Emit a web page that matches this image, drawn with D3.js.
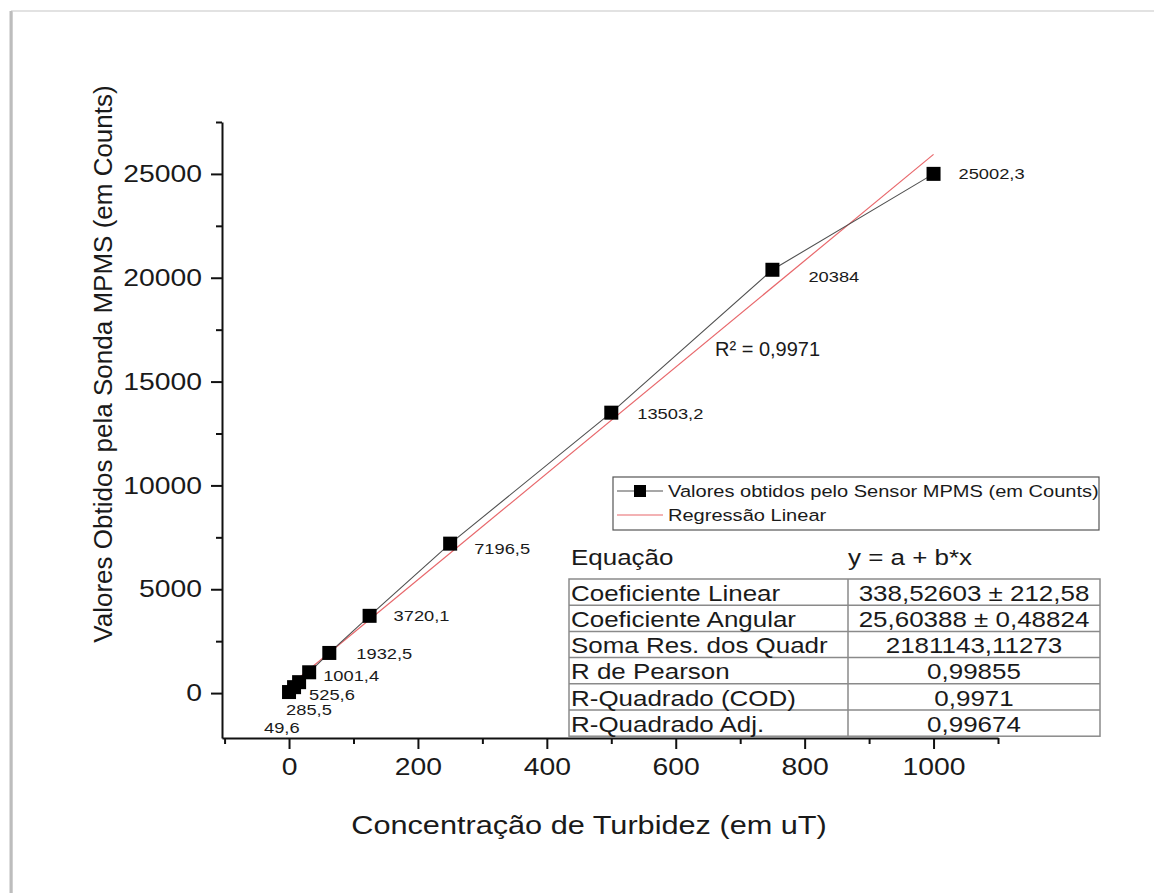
<!DOCTYPE html>
<html>
<head>
<meta charset="utf-8">
<script src="https://cdn.jsdelivr.net/npm/d3@7"></script>
<style>
  body { margin: 0; background: #fff; }
  svg text { font-family: "Liberation Sans", Arial, sans-serif; fill: #1a1a1a; }
</style>
</head>
<body>
<div id="vis"></div>
<script>
// --- data ---
const concentrations = [0, 7.8125, 15.625, 31.25, 62.5, 125, 250, 500, 750, 1000];
const counts = [49.6, 285.5, 525.6, 1001.4, 1932.5, 3720.1, 7196.5, 13503.2, 20384, 25002.3];
const fitIntercept = 338.52603;
const fitSlope = 25.60388;
const rSquaredText = "R² = 0,9971";

const xTicks = [0, 200, 400, 600, 800, 1000];
const xMinorTicks = [-100, 100, 300, 500, 700, 900, 1100];
const yTicks = [0, 5000, 10000, 15000, 20000, 25000];
const yMinorTicks = [2500, 7500, 12500, 17500, 22500, 27500];

const statNames = ["Coeficiente Linear", "Coeficiente Angular", "Soma Res. dos Quadr", "R de Pearson", "R-Quadrado (COD)", "R-Quadrado Adj."];
const statValues = ["338,52603 ± 212,58", "25,60388 ± 0,48824", "2181143,11273", "0,99855", "0,9971", "0,99674"];

const legendNames = ["Valores obtidos pelo Sensor MPMS (em Counts)", "Regressão Linear"];

// label nudges (px), placed by hand in the original
const labelOffsets = [[-25, 36], [-8, 23], [10, 13], [14, 4], [27, 1], [24, 0], [24, 5], [26, 1], [36, 7], [25, 0]];

const W = 1154, H = 893;
const plot = { left: 222, right: 998, top: 122, bottom: 738 };
const SX = 1.18; // the source picture is a little wider than tall

const svg = d3.select("#vis").append("svg")
    .attr("width", W)
    .attr("height", H);

// horizontal text with the same widening as the source
function wideText(parent, x, y, txt, size) {
    return parent.append("text")
        .attr("transform", `translate(${x},${y}) scale(${SX},1)`)
        .style("font-size", size + "px")
        .text(txt);
}

// page frame
svg.append("rect").attr("x", 12).attr("y", 11).attr("width", W).attr("height", H)
    .attr("fill", "#fff").attr("stroke", "#e2e2e2").attr("stroke-width", 2);
svg.append("line").attr("x1", 11).attr("x2", 11).attr("y1", 11).attr("y2", H)
    .attr("stroke", "#bdbdbd").attr("stroke-width", 3);

const x = d3.scaleLinear().domain([-104, 1100]).range([plot.left, plot.right]);
const y = d3.scaleLinear().domain([-2163, 27500]).range([plot.bottom, plot.top]);

// axes
svg.append("g").attr("transform", `translate(0,${plot.bottom})`)
    .call(d3.axisBottom(x).tickValues(xMinorTicks).tickSize(6).tickFormat(""))
    .call(g => g.select(".domain").remove());
const xMajor = svg.append("g").attr("transform", `translate(0,${plot.bottom})`)
    .call(d3.axisBottom(x).tickValues(xTicks).tickSize(11).tickPadding(9).tickSizeOuter(0).tickFormat(d3.format("d")));
xMajor.selectAll("text").style("font-size", "24px").attr("fill", "#1a1a1a")
    .attr("transform", `scale(${SX},1)`);

svg.append("g").attr("transform", `translate(${plot.left},0)`)
    .call(d3.axisLeft(y).tickValues(yMinorTicks).tickSize(6).tickFormat(""))
    .call(g => g.select(".domain").remove());
const yMajor = svg.append("g").attr("transform", `translate(${plot.left},0)`)
    .call(d3.axisLeft(y).tickValues(yTicks).tickSize(11).tickPadding(7).tickSizeOuter(0).tickFormat(d3.format("d")));
yMajor.selectAll("text").style("font-size", "24px").attr("fill", "#1a1a1a")
    .attr("x", -20 / SX)
    .attr("transform", `scale(${SX},1)`);

svg.selectAll(".domain, .tick line").attr("stroke", "#111").attr("stroke-width", 2);

// axis titles
wideText(svg, 589, 834, "Concentração de Turbidez (em uT)", 26).attr("text-anchor", "middle");
svg.append("text")
    .attr("transform", "translate(112,364) rotate(-90)")
    .attr("text-anchor", "middle")
    .style("font-size", "26px")
    .text("Valores Obtidos pela Sonda MPMS (em Counts)");

const data = concentrations.map((c, i) => ({ x: c, y: counts[i], off: labelOffsets[i] }));

// regression line
const xExt = d3.extent(concentrations);
svg.append("line")
    .attr("x1", x(xExt[0])).attr("y1", y(fitIntercept + fitSlope * xExt[0]))
    .attr("x2", x(xExt[1])).attr("y2", y(fitIntercept + fitSlope * xExt[1]))
    .attr("stroke", "#e8676b").attr("stroke-width", 1.2);

// measured series
svg.append("path")
    .datum(data)
    .attr("fill", "none")
    .attr("stroke", "#505050")
    .attr("stroke-width", 1.1)
    .attr("d", d3.line().x(d => x(d.x)).y(d => y(d.y)));

const sq = 14;
svg.selectAll(".pt").data(data).join("rect")
    .attr("class", "pt")
    .attr("x", d => x(d.x) - sq / 2).attr("y", d => y(d.y) - sq / 2)
    .attr("width", sq).attr("height", sq)
    .attr("fill", "#000");

data.forEach(d => {
    wideText(svg, x(d.x) + d.off[0], y(d.y) + d.off[1], String(d.y).replace(".", ","), 15.5)
        .attr("dominant-baseline", "central");
});

svg.append("text")
    .attr("x", 715).attr("y", 356)
    .style("font-size", "20px")
    .text(rSquaredText);

// legend
const lg = svg.append("g").attr("transform", "translate(613,477)");
lg.append("rect").attr("width", 486).attr("height", 53)
    .attr("fill", "#fff").attr("stroke", "#555").attr("stroke-width", 1.2);
legendNames.forEach((name, i) => {
    const cy = 14 + i * 24;
    lg.append("line").attr("x1", 4).attr("x2", 50).attr("y1", cy).attr("y2", cy)
        .attr("stroke", i === 0 ? "#505050" : "#e8676b").attr("stroke-width", 1.2);
    if (i === 0) {
        lg.append("rect").attr("x", 21).attr("y", cy - 6).attr("width", 12).attr("height", 12).attr("fill", "#000");
    }
    wideText(lg, 55, cy, name, 17).attr("dominant-baseline", "central");
});

// statistics table
const tb = { left: 569, mid: 848, right: 1100, top: 579, row: 26.2 };
wideText(svg, 571, 557, "Equação", 22).attr("dominant-baseline", "central");
wideText(svg, 848, 557, "y = a + b*x", 22).attr("dominant-baseline", "central");

const rowY = d3.scaleLinear().domain([0, statNames.length]).range([tb.top, tb.top + tb.row * statNames.length]);
svg.append("rect")
    .attr("x", tb.left).attr("y", rowY(0))
    .attr("width", tb.right - tb.left).attr("height", rowY(statNames.length) - rowY(0))
    .attr("fill", "none").attr("stroke", "#8a8a8a").attr("stroke-width", 1.5);
svg.append("line").attr("x1", tb.mid).attr("x2", tb.mid)
    .attr("y1", rowY(0)).attr("y2", rowY(statNames.length))
    .attr("stroke", "#8a8a8a").attr("stroke-width", 1.5);
svg.selectAll(".rowline").data(d3.range(1, statNames.length)).join("line")
    .attr("class", "rowline")
    .attr("x1", tb.left).attr("x2", tb.right)
    .attr("y1", d => rowY(d)).attr("y2", d => rowY(d))
    .attr("stroke", "#8a8a8a").attr("stroke-width", 1.5);
statNames.forEach((name, i) => {
    wideText(svg, tb.left + 2, rowY(i) + tb.row / 2 + 1, name, 22).attr("dominant-baseline", "central");
});
statValues.forEach((val, i) => {
    wideText(svg, (tb.mid + tb.right) / 2, rowY(i) + tb.row / 2 + 1, val, 22)
        .attr("text-anchor", "middle").attr("dominant-baseline", "central");
});
</script>
</body>
</html>
